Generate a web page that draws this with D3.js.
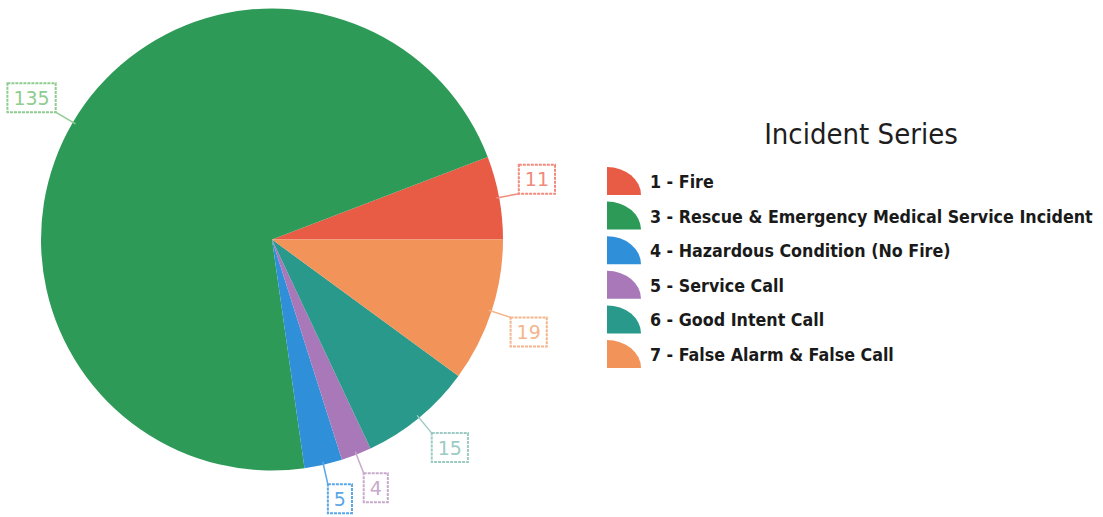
<!DOCTYPE html>
<html><head><meta charset="utf-8">
<script src="https://cdn.jsdelivr.net/npm/d3@7"></script>
<style>body{margin:0;background:#fff}svg{display:block}</style>
</head><body>
<svg id="c" width="1103" height="517"></svg>
<script>
const categories = ["1 - Fire","3 - Rescue & Emergency Medical Service Incident","4 - Hazardous Condition (No Fire)","5 - Service Call","6 - Good Intent Call","7 - False Alarm & False Call"];
const values = [11,135,5,4,15,19];
const colors = ["#e85b45","#2e9a58","#2f8fd9","#a878b8","#28998a","#f2935a"];
const labelColors = ["#ef8a7c","#8fcc90","#5aa6e6","#c7aacb","#9ccbc4","#f4b58c"];
const title = "Incident Series";

const svg = d3.select("#c");
const cx = 272, cy = 239.5, R = 231;
const pie = d3.pie().sort(null).value(d=>d).startAngle(Math.PI/2).endAngle(Math.PI/2 - 2*Math.PI);
const arcs = pie(values);
const arc = d3.arc().innerRadius(0).outerRadius(R);
const g = svg.append("g").attr("transform",`translate(${cx},${cy})`);
g.selectAll("path").data(arcs).join("path").attr("d",arc).attr("fill",(d,i)=>colors[i]);

// labels
const lab = svg.append("g");
arcs.forEach((d,i)=>{
  const a = (d.startAngle+d.endAngle)/2;
  const ux = Math.sin(a), uy = -Math.cos(a);
  const x0 = cx+ux*(R-3), y0 = cy+uy*(R-3);
  const x1 = cx+ux*(R+20), y1 = cy+uy*(R+20);
  lab.append("line").attr("x1",x0).attr("y1",y0).attr("x2",x1).attr("y2",y1)
    .attr("stroke",labelColors[i]).attr("stroke-width",1.5);
  const t = lab.append("text").text(values[i]).attr("font-family","DejaVu Sans, sans-serif")
    .attr("font-size",19).attr("fill",labelColors[i]);
  const w = t.node().getComputedTextLength();
  const bw = w+12, bh = 29;
  const bx = ux>=0 ? x1 : x1-bw;
  const by = uy>=0 ? y1 : y1-bh;
  t.attr("x",bx+bw/2).attr("y",by+bh/2+7).attr("text-anchor","middle");
  lab.append("rect").attr("x",bx).attr("y",by).attr("width",bw).attr("height",bh)
    .attr("fill","none").attr("stroke",labelColors[i]).attr("stroke-width",2)
    .attr("stroke-dasharray","3 1");
});

// legend
svg.append("text").attr("x",861).attr("y",144).attr("text-anchor","middle")
  .attr("font-family","DejaVu Sans Condensed, DejaVu Sans, sans-serif").attr("font-size",29)
  .attr("font-weight","500").attr("fill","#1e1e1e").text(title);
const leg = svg.append("g");
const y0 = 181, step = 34.6;
const texts = [];
categories.forEach((c,i)=>{
  const yc = y0+i*step;
  const x = 607, yb = yc+14, rx = 34, ry = 28;
  leg.append("path").attr("d",`M${x},${yb} L${x},${yb-ry} A${rx},${ry} 0 0 1 ${x+rx},${yb} Z`)
    .attr("fill",colors[i]);
  texts.push(leg.append("text").attr("x",650).attr("y",yc+7)
    .attr("font-family","DejaVu Sans Condensed, DejaVu Sans, sans-serif")
    .attr("font-weight","bold").attr("font-size",19).attr("fill","#1a1a1a").text(c));
});
const maxW = d3.max(texts, t=>t.node().getComputedTextLength());
const fs = Math.min(19, 19*443/maxW);
texts.forEach(t=>t.attr("font-size",fs));
</script>
</body></html>
